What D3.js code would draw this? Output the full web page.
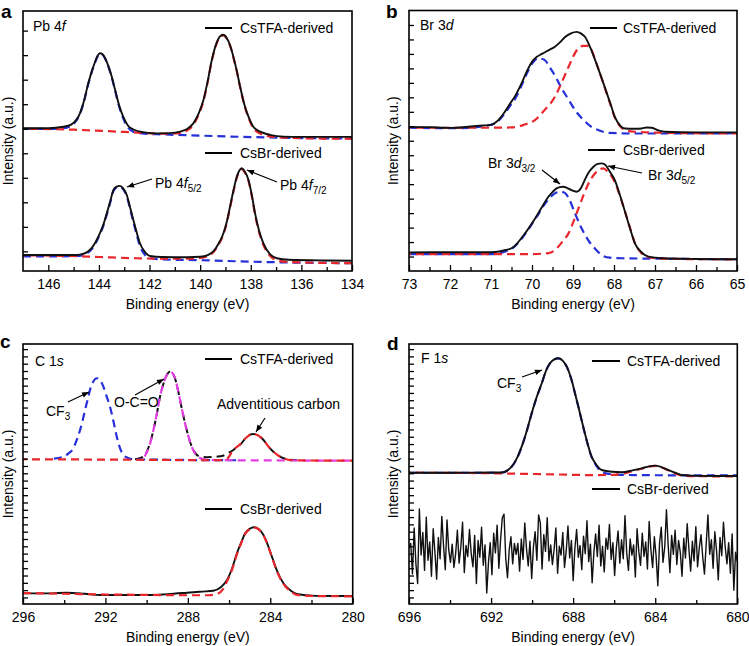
<!DOCTYPE html>
<html><head><meta charset="utf-8">
<script src="https://cdn.jsdelivr.net/npm/d3@7"></script>
<style>body{margin:0;background:#fff}svg text{font-family:"Liberation Sans",Arial,sans-serif;fill:#000}</style>
</head><body><svg id="chart" width="749" height="646"></svg>
<script>
// ---------------- DATA ----------------
// Panel a: Pb 4f  [binding energy (eV), intensity (a.u.)]
const aTFA = [[147,5.02],[146,5.02],[145.4,5.08],[145.1,5.17],[144.9,5.35],[144.75,5.63],[144.6,6.1],[144.42,6.85],[144.28,7.35],[144.15,7.73],[144.05,7.98],[143.96,8.08],[143.85,8.03],[143.69,7.73],[143.5,7.15],[143.36,6.58],[143.2,5.95],[143.04,5.49],[142.85,5.12],[142.64,4.97],[142.2,4.85],[141.72,4.81],[141.2,4.82],[140.79,4.88],[140.5,5.0],[140.27,5.22],[140.05,5.65],[139.87,6.17],[139.7,6.95],[139.54,7.8],[139.35,8.5],[139.2,8.78],[139.08,8.83],[138.95,8.7],[138.8,8.35],[138.69,7.94],[138.55,7.35],[138.42,6.71],[138.25,5.98],[138.09,5.49],[137.9,5.08],[137.63,4.88],[137.2,4.74],[136.71,4.68],[136,4.67],[135,4.67],[134,4.67]];
const aTFAfit52 = [[147,5.0],[146,4.99],[145.4,5.02],[145.1,5.12],[144.9,5.32],[144.75,5.6],[144.6,6.08],[144.42,6.83],[144.28,7.33],[144.15,7.71],[144.05,7.96],[143.96,8.06],[143.85,8.01],[143.69,7.71],[143.5,7.12],[143.36,6.55],[143.2,5.9],[143.04,5.42],[142.85,5.05],[142.64,4.88],[142.2,4.8],[141.5,4.77],[140,4.72],[138,4.66],[136,4.62],[134,4.6]];
const aTFAfit72 = [[147,5.0],[145,4.96],[143,4.87],[141.5,4.8],[140.79,4.82],[140.5,4.94],[140.27,5.16],[140.05,5.6],[139.87,6.13],[139.7,6.92],[139.54,7.77],[139.35,8.47],[139.2,8.76],[139.08,8.81],[138.95,8.68],[138.8,8.33],[138.69,7.92],[138.55,7.33],[138.42,6.69],[138.25,5.95],[138.09,5.45],[137.9,5.02],[137.63,4.8],[137.2,4.68],[136.5,4.63],[135,4.6],[134,4.6]];
const aBr = [[147,-0.15],[146,-0.15],[145,-0.15],[144.75,-0.13],[144.5,-0.05],[144.29,0.13],[144.12,0.4],[143.96,0.74],[143.82,1.1],[143.69,1.55],[143.55,2.05],[143.43,2.5],[143.3,2.64],[143.17,2.67],[143.05,2.58],[142.9,2.3],[142.77,1.8],[142.64,1.28],[142.5,0.75],[142.38,0.33],[142.2,0.0],[141.98,-0.19],[141.5,-0.23],[140.5,-0.24],[140,-0.22],[139.7,-0.15],[139.48,0.0],[139.28,0.3],[139.08,0.74],[138.95,1.2],[138.82,1.82],[138.68,2.5],[138.55,3.05],[138.45,3.3],[138.36,3.39],[138.25,3.28],[138.09,2.91],[137.96,2.3],[137.83,1.55],[137.66,0.8],[137.5,0.33],[137.25,-0.1],[136.97,-0.28],[136.5,-0.34],[135,-0.37],[134,-0.38]];
const aBrFit52 = [[147,-0.2],[145.5,-0.2],[144.75,-0.18],[144.5,-0.1],[144.29,0.08],[144.12,0.35],[143.96,0.7],[143.82,1.06],[143.69,1.5],[143.55,2.0],[143.43,2.45],[143.3,2.6],[143.17,2.63],[143.05,2.54],[142.9,2.25],[142.77,1.74],[142.64,1.2],[142.5,0.65],[142.38,0.22],[142.2,-0.12],[141.98,-0.28],[141.5,-0.33],[140,-0.36],[138,-0.42],[136,-0.46],[134,-0.48]];
const aBrFit72 = [[147,-0.16],[145.5,-0.18],[144,-0.23],[142.5,-0.28],[141.5,-0.3],[140.5,-0.3],[140,-0.27],[139.7,-0.19],[139.48,-0.04],[139.28,0.26],[139.08,0.7],[138.95,1.16],[138.82,1.78],[138.68,2.46],[138.55,3.01],[138.45,3.26],[138.36,3.35],[138.25,3.24],[138.09,2.87],[137.96,2.26],[137.83,1.5],[137.66,0.74],[137.5,0.26],[137.25,-0.17],[136.97,-0.36],[136.5,-0.43],[135,-0.47],[134,-0.48]];
const aXMajor = [146,144,142,140,138,136,134];
const aXMinor = [145,143,141,139,137,135];
const aYTicks = [0,1,2,3,4,5,6,7,8,9];

// Panel b: Br 3d
const bTFA = [[73,8.96],[72.5,8.94],[72,8.89],[71.5,8.98],[71.2,9.05],[71.0,9.1],[70.85,9.35],[70.7,9.85],[70.55,10.5],[70.41,11.1],[70.25,12.0],[70.1,12.95],[70.0,13.45],[69.88,13.8],[69.76,14.0],[69.6,14.25],[69.44,14.5],[69.3,14.85],[69.2,15.15],[69.05,15.42],[68.91,15.52],[68.8,15.4],[68.7,15.15],[68.58,14.45],[68.46,13.57],[68.33,12.55],[68.2,11.5],[68.08,10.5],[67.98,9.65],[67.85,9.05],[67.73,8.85],[67.5,8.83],[67.32,8.85],[67.2,8.92],[67.08,8.9],[66.9,8.7],[66.76,8.62],[66,8.58],[65,8.58]];
const bTFAfit32 = [[73,8.9],[72,8.87],[71.5,8.9],[71.2,9.0],[71.0,9.1],[70.85,9.3],[70.7,9.75],[70.55,10.35],[70.41,10.9],[70.25,11.85],[70.1,12.8],[69.98,13.4],[69.85,13.69],[69.7,13.6],[69.55,13.0],[69.42,12.4],[69.3,11.73],[69.12,10.9],[68.95,10.12],[68.75,9.45],[68.55,8.96],[68.35,8.7],[68.15,8.55],[67.5,8.5],[66,8.5],[65,8.52]];
const bTFAfit52 = [[73,8.9],[71,8.9],[70.5,8.92],[70.2,9.1],[69.93,9.43],[69.7,10.1],[69.44,11.04],[69.28,12.0],[69.11,13.1],[68.98,13.9],[68.87,14.4],[68.75,14.55],[68.63,14.56],[68.55,14.3],[68.46,13.6],[68.33,12.55],[68.2,11.45],[68.08,10.45],[67.98,9.6],[67.85,9.0],[67.73,8.75],[67.5,8.62],[67.2,8.58],[66,8.52],[65,8.5]];
const bBr = [[73,0.29],[72,0.3],[71,0.3],[70.8,0.35],[70.65,0.45],[70.5,0.57],[70.35,0.95],[70.17,1.6],[70.0,2.3],[69.85,2.98],[69.72,3.6],[69.6,4.13],[69.5,4.45],[69.4,4.71],[69.32,4.8],[69.24,4.82],[69.15,4.75],[69.05,4.6],[68.91,4.48],[68.8,4.75],[68.72,5.25],[68.63,5.75],[68.5,6.2],[68.4,6.4],[68.3,6.44],[68.2,6.3],[68.1,5.85],[67.98,5.28],[67.85,4.2],[67.72,2.98],[67.6,1.85],[67.49,0.91],[67.35,0.35],[67.16,-0.01],[66.8,-0.12],[66,-0.17],[65,-0.19]];
const bBrFit32 = [[73,0.17],[71,0.17],[70.8,0.22],[70.65,0.35],[70.5,0.52],[70.35,0.9],[70.17,1.55],[70.0,2.25],[69.85,2.9],[69.72,3.5],[69.6,3.95],[69.45,4.35],[69.3,4.48],[69.2,4.4],[69.1,4.0],[68.95,2.98],[68.8,2.0],[68.63,1.14],[68.45,0.5],[68.3,0.1],[68.1,-0.08],[67.8,-0.12],[66,-0.17],[65,-0.19]];
const bBrFit52 = [[73,0.17],[70,0.17],[69.6,0.24],[69.44,0.45],[69.28,0.95],[69.11,1.6],[68.95,2.7],[68.79,3.9],[68.63,5.0],[68.46,5.75],[68.35,6.02],[68.26,6.09],[68.15,5.85],[68.05,5.5],[67.98,5.14],[67.85,4.15],[67.72,3.0],[67.6,1.9],[67.49,0.93],[67.35,0.3],[67.16,-0.05],[66.8,-0.15],[66,-0.18],[65,-0.2]];
const bXMajor = [73,72,71,70,69,68,67,66,65];
const bXMinor = [72.5,71.5,70.5,69.5,68.5,67.5,66.5,65.5];
const bYTicks = d3.range(0,17);

// Panel c: C 1s
const cTFA = [[290.9,18.95],[290.65,18.92],[290.3,19.1],[290.08,19.51],[289.85,21.0],[289.67,22.93],[289.5,25.2],[289.35,27.5],[289.18,29.3],[289.02,30.47],[288.86,30.92],[288.72,30.6],[288.6,29.78],[288.45,28.0],[288.28,25.67],[288.08,23.2],[287.87,21.11],[287.67,19.9],[287.47,19.35],[287.1,19.2],[286.6,19.27],[286.3,19.4],[286.1,19.7],[285.79,20.19],[285.6,20.65],[285.4,21.1],[285.2,21.8],[285.0,22.25],[284.82,22.38],[284.6,22.2],[284.33,21.56],[284.1,20.7],[283.85,19.96],[283.6,19.4],[283.36,19.05],[283,18.85],[282.7,18.78]];
const cTFAfitCF3 = [[294.5,19.0],[294.04,19.27],[293.8,19.7],[293.56,20.42],[293.4,21.5],[293.23,22.93],[293.1,24.3],[292.99,25.67],[292.87,27.0],[292.75,28.41],[292.6,29.5],[292.42,30.01],[292.25,29.7],[292.1,28.86],[291.95,27.6],[291.78,26.12],[291.6,24.0],[291.45,22.01],[291.3,20.5],[291.13,19.51],[290.9,19.1],[290.65,18.92],[289,18.85],[287,18.8],[285.5,18.78]];
const cTFAfitOCO = [[290.1,19.3],[289.85,20.9],[289.67,22.93],[289.5,25.2],[289.35,27.5],[289.18,29.3],[289.02,30.47],[288.86,30.92],[288.72,30.6],[288.6,29.78],[288.45,28.0],[288.28,25.67],[288.08,23.2],[287.87,21.11],[287.67,19.8],[287.47,19.2],[287.2,18.9],[286.5,18.8],[284,18.76],[282,18.74],[280,18.73]];
const cTFAfitAdv = [[296,18.92],[294,18.9],[292,18.87],[290,18.84],[288,18.8],[287,18.78],[286.5,18.8],[286.1,19.0],[285.79,20.19],[285.6,20.65],[285.4,21.1],[285.2,21.8],[285.0,22.25],[284.82,22.38],[284.6,22.2],[284.33,21.56],[284.1,20.7],[283.85,19.96],[283.6,19.4],[283.36,19.05],[283,18.8],[282,18.75],[280,18.73]];
const cBr = [[296,0.56],[295,0.55],[293.9,0.64],[293,0.5],[292.26,0.33],[291,0.33],[289.83,0.33],[289,0.45],[288.05,0.64],[287.3,0.8],[286.76,0.92],[286.4,1.4],[286.1,2.38],[285.85,4.0],[285.62,6.04],[285.4,7.6],[285.22,8.78],[285.0,9.4],[284.78,9.6],[284.55,9.35],[284.33,8.55],[284.12,7.2],[283.92,5.58],[283.65,3.5],[283.36,1.93],[283.0,0.9],[282.71,0.47],[282,0.25],[281,0.2],[280,0.19]];
const cBrFit = [[296,0.6],[294,0.5],[292,0.4],[290,0.35],[288,0.3],[287,0.3],[286.6,0.45],[286.3,1.1],[286.1,2.2],[285.85,3.85],[285.62,5.9],[285.4,7.5],[285.22,8.7],[285.0,9.35],[284.78,9.55],[284.55,9.3],[284.33,8.5],[284.12,7.15],[283.92,5.5],[283.65,3.4],[283.36,1.85],[283.0,0.8],[282.71,0.35],[282,0.2],[280,0.15]];
const cXMajor = [296,292,288,284,280];
const cXMinor = [294,290,286,282];
const cYTicks = d3.range(0,35);

// Panel d: F 1s
const dTFA = [[696,17.08],[694,17.08],[692,17.1],[691.48,17.1],[691.2,17.4],[691.0,17.9],[690.75,19.0],[690.51,20.64],[690.25,22.9],[690.02,25.22],[689.78,27.4],[689.53,29.33],[689.3,31.2],[689.13,32.07],[688.92,32.6],[688.72,32.75],[688.5,32.4],[688.31,31.6],[688.1,30.0],[687.91,27.96],[687.7,25.6],[687.51,23.38],[687.3,21.1],[687.1,19.27],[686.85,18.1],[686.61,17.45],[686.1,17.2],[685.63,17.14],[685.1,17.4],[684.66,17.68],[684.3,17.95],[684.01,18.04],[683.7,17.85],[683.36,17.45],[683.0,17.05],[682.71,16.77],[682,16.65],[681,16.63],[680,16.63]];
const dTFAfitCF3 = [[696,17.05],[692,17.05],[691.48,17.08],[691.2,17.38],[691.0,17.88],[690.75,18.98],[690.51,20.6],[690.25,22.87],[690.02,25.2],[689.78,27.38],[689.53,29.3],[689.3,31.18],[689.13,32.05],[688.92,32.58],[688.72,32.73],[688.5,32.38],[688.31,31.58],[688.1,29.97],[687.91,27.93],[687.7,25.57],[687.51,23.35],[687.3,21.05],[687.1,19.2],[686.85,17.95],[686.61,17.2],[686.1,16.85],[685,16.75],[683,16.72],[680,16.7]];
const dTFAfit684 = [[696,17.08],[692,17.0],[689,16.85],[687,16.75],[686,16.78],[685.63,16.9],[685.1,17.3],[684.66,17.62],[684.3,17.9],[684.01,18.0],[683.7,17.8],[683.36,17.4],[683.0,16.95],[682.71,16.7],[682,16.6],[680,16.58]];
const dBrStart = 696, dBrEnd = 680;
const dBrValues = [
6.8,7.4,3.2,9.5,4.6,1.9,12.1,5.8,8.9,3.7,11.0,5.1,7.6,2.9,9.4,6.2,2.5,8.2,5.3,11.1,
7.0,3.8,10.6,6.5,4.8,7.3,4.1,6.0,9.2,4.7,6.9,10.3,3.4,7.1,5.6,9.3,6.0,4.2,8.5,1.9,
7.8,5.5,9.6,4.4,7.2,0.6,4.8,7.5,3.1,8.8,6.1,9.9,4.0,7.9,10.9,11.4,5.3,2.7,6.5,8.3,
4.6,7.4,5.9,7.4,3.6,8.0,5.2,10.2,6.7,4.3,7.7,2.6,6.9,9.0,5.1,11.3,10.2,3.9,8.6,6.3,
10.9,5.0,7.2,4.5,6.6,9.5,3.3,7.0,5.8,8.9,4.1,6.4,9.8,5.4,7.8,2.3,6.7,9.3,5.5,7.1,
3.8,8.4,6.0,10.5,4.9,7.3,2.0,6.2,8.7,5.6,9.9,4.3,7.0,3.5,8.1,6.6,10.0,5.2,7.5,3.0,
6.8,9.1,4.7,7.9,5.3,11.2,6.1,3.7,8.0,5.8,7.2,2.8,9.4,6.3,4.4,8.8,5.6,7.6,3.9,10.4,
6.5,4.1,8.3,5.7,1.6,7.4,9.6,4.8,6.9,12.0,7.1,3.4,8.5,5.9,9.2,4.5,7.8,6.2,2.9,8.1,
5.4,10.1,6.6,3.6,7.7,5.0,9.7,4.2,6.8,8.6,5.5,3.2,7.3,11.3,5.9,7.9,4.0,9.0,6.4,2.4,
8.2,5.7,10.3,6.9,4.6,7.5,3.3,8.7,1.0,6.2,4.9];
const dXMajor = [696,692,688,684,680];
const dXMinor = [694,690,686,682];
const dYTicks = d3.range(0,35);

const BLUE = "#2530d8", RED = "#e8262b", MAGENTA = "#e23ce2", BLACK = "#111";

// ---------------- DRAW ----------------
const svg = d3.select("#chart");
const defs = svg.append("defs");
defs.append("marker").attr("id","arrow").attr("viewBox","0 0 10 10")
  .attr("refX",10).attr("refY",5).attr("markerWidth",8).attr("markerHeight",7)
  .attr("markerUnits","userSpaceOnUse").attr("orient","auto")
  .append("path").attr("d","M0,1 L10,5 L0,9 Z").attr("fill","#000");

function panel(p){
  const {l,r,t,b} = p.box;
  const x = d3.scaleLinear().domain(p.xDomain).range([l,r]);
  const y = d3.scaleLinear().domain(p.yDomain).range([b,t]);
  const g = svg.append("g");
  const cid = "clip-"+p.id;
  defs.append("clipPath").attr("id",cid).append("rect")
    .attr("x",l).attr("y",t).attr("width",r-l).attr("height",b-t);
  const plot = g.append("g").attr("clip-path","url(#"+cid+")");
  p.series.forEach(s=>{
    const line = d3.line().x(d=>x(d[0])).y(d=>y(d[1])).curve(s.curve || d3.curveMonotoneX);
    plot.append("path").datum(s.data).attr("d",line)
      .attr("fill","none").attr("stroke",s.color)
      .attr("stroke-width",s.width||2)
      .attr("stroke-dasharray",s.dash||null)
      .attr("stroke-dashoffset",s.offset||0)
      .attr("stroke-linejoin","round");
  });
  // axes
  const ax = g.append("g").attr("transform",`translate(0,${b})`)
    .call(d3.axisBottom(x).tickValues(p.xMajor).tickSize(-6).tickPadding(8).tickFormat(d3.format("d")));
  ax.selectAll("text").attr("font-size",14).attr("font-family","Liberation Sans, Arial, sans-serif");
  const axm = g.append("g").attr("transform",`translate(0,${b})`)
    .call(d3.axisBottom(x).tickValues(p.xMinor).tickSize(-4).tickFormat(""));
  const ay = g.append("g").attr("transform",`translate(${l},0)`)
    .call(d3.axisLeft(y).tickValues(p.yTicks).tickSize(-5).tickFormat(""));
  [ax,axm,ay].forEach(a=>{a.select(".domain").remove(); a.selectAll("line").attr("stroke","#000").attr("stroke-width",1.3);});
  g.append("rect").attr("x",l).attr("y",t).attr("width",r-l).attr("height",b-t)
    .attr("fill","none").attr("stroke","#000").attr("stroke-width",1.6);
  // labels
  g.append("text").attr("x",(l+r)/2).attr("y",b+38).attr("text-anchor","middle")
    .attr("font-size",14).text("Binding energy (eV)");
  g.append("text").attr("transform",`translate(${p.yLabelX},${(t+b)/2}) rotate(-90)`)
    .attr("text-anchor","middle").attr("font-size",14).text("Intensity (a.u.)");
  g.append("text").attr("x",p.letter[1]).attr("y",p.letter[2]).attr("font-size",19)
    .attr("font-weight","bold").text(p.letter[0]);
  const tt = g.append("text").attr("x",p.title.x).attr("y",p.title.y).attr("font-size",14);
  tt.append("tspan").text(p.title.a);
  tt.append("tspan").attr("font-style","italic").text(p.title.b);
  p.legend.forEach(lg=>{
    g.append("line").attr("x1",lg.x1).attr("x2",lg.x2).attr("y1",lg.y).attr("y2",lg.y)
      .attr("stroke","#000").attr("stroke-width",2);
    g.append("text").attr("x",lg.tx).attr("y",lg.y+5).attr("font-size",14).text(lg.text);
  });
  (p.notes||[]).forEach(n=>{
    const te = g.append("text").attr("x",n.x).attr("y",n.y).attr("font-size",14);
    n.parts.forEach(pt=>{
      const ts = te.append("tspan").text(pt.t);
      if(pt.i) ts.attr("font-style","italic");
      if(pt.sub) ts.attr("font-size",10).attr("dy",4);
    });
    if(n.arrow) g.append("line").attr("x1",n.arrow[0]).attr("y1",n.arrow[1])
      .attr("x2",n.arrow[2]).attr("y2",n.arrow[3]).attr("stroke","#000")
      .attr("stroke-width",1.2).attr("marker-end","url(#arrow)");
  });
}

const DASH = "8,5";
panel({id:"a", box:{l:23,r:352,t:11,b:271}, xDomain:[147,134], yDomain:[-0.8,9.8],
  xMajor:aXMajor, xMinor:aXMinor, yTicks:aYTicks, yLabelX:13,
  letter:["a",1,18], title:{x:33,y:31,a:"Pb 4",b:"f"},
  legend:[{x1:205,x2:232,y:28,tx:240,text:"CsTFA-derived"},{x1:205,x2:232,y:153,tx:240,text:"CsBr-derived"}],
  series:[
    {data:aTFAfit52,color:BLUE,dash:DASH,width:2.2},
    {data:aTFAfit72,color:RED,dash:DASH,width:2.2,offset:6},
    {data:aBrFit52,color:BLUE,dash:DASH,width:2.2},
    {data:aBrFit72,color:RED,dash:DASH,width:2.2,offset:6},
    {data:aTFA,color:BLACK,width:1.9},
    {data:aBr,color:BLACK,width:1.9}],
  notes:[
    {x:155,y:188,parts:[{t:"Pb 4"},{t:"f",i:1},{t:"5/2",sub:1}],arrow:[152,179,127,187]},
    {x:280,y:190,parts:[{t:"Pb 4"},{t:"f",i:1},{t:"7/2",sub:1}],arrow:[277,182,247,170]}]
});
panel({id:"b", box:{l:409,r:737,t:10.5,b:271}, xDomain:[73,65], yDomain:[-1,17],
  xMajor:bXMajor, xMinor:bXMinor, yTicks:bYTicks, yLabelX:398,
  letter:["b",386,18], title:{x:420,y:30,a:"Br 3",b:"d"},
  legend:[{x1:590,x2:617,y:28,tx:623,text:"CsTFA-derived"},{x1:588,x2:615,y:150,tx:623,text:"CsBr-derived"}],
  series:[
    {data:bTFAfit32,color:BLUE,dash:DASH,width:2.2},
    {data:bTFAfit52,color:RED,dash:DASH,width:2.2,offset:6},
    {data:bBrFit32,color:BLUE,dash:DASH,width:2.2},
    {data:bBrFit52,color:RED,dash:DASH,width:2.2,offset:6},
    {data:bTFA,color:BLACK,width:1.9},
    {data:bBr,color:BLACK,width:1.9}],
  notes:[
    {x:488,y:168,parts:[{t:"Br 3"},{t:"d",i:1},{t:"3/2",sub:1}],arrow:[542,170,560,184]},
    {x:648,y:180,parts:[{t:"Br 3"},{t:"d",i:1},{t:"5/2",sub:1}],arrow:[642,173,608,166]}]
});
panel({id:"c", box:{l:23,r:352.7,t:344,b:604}, xDomain:[296,280], yDomain:[-0.9,34.7],
  xMajor:cXMajor, xMinor:cXMinor, yTicks:cYTicks, yLabelX:13,
  letter:["c",0,348], title:{x:35,y:366,a:"C 1",b:"s"},
  legend:[{x1:205,x2:232,y:359,tx:240,text:"CsTFA-derived"},{x1:205,x2:232,y:509,tx:240,text:"CsBr-derived"}],
  series:[
    {data:cTFA,color:BLACK,dash:DASH,width:2,offset:6},
    {data:cTFAfitCF3,color:BLUE,dash:DASH,width:2.2},
    {data:cTFAfitOCO,color:MAGENTA,dash:DASH,width:2.2},
    {data:cTFAfitAdv,color:RED,dash:DASH,width:2.2,offset:4},
    {data:cBr,color:BLACK,width:1.9},
    {data:cBrFit,color:RED,dash:DASH,width:2.2}],
  notes:[
    {x:46,y:416,parts:[{t:"CF"},{t:"3",sub:1}],arrow:[68,402,89,392]},
    {x:114,y:407,parts:[{t:"O-C=O"}],arrow:[135,395,164,379]},
    {x:217,y:409,parts:[{t:"Adventitious carbon"}],arrow:[265,418,256,432]}]
});
// noisy CsBr F1s trace: energies spaced evenly along the measured range
const dBrStep = (dBrStart-dBrEnd)/(dBrValues.length-1);
const dBr = dBrValues.map((v,i)=>[dBrStart - i*dBrStep, v]);
panel({id:"d", box:{l:409,r:737.3,t:344,b:604}, xDomain:[696,680], yDomain:[-0.9,34.7],
  xMajor:dXMajor, xMinor:dXMinor, yTicks:dYTicks, yLabelX:398,
  letter:["d",387,350], title:{x:421,y:363,a:"F 1",b:"s"},
  legend:[{x1:592,x2:620,y:361,tx:627,text:"CsTFA-derived"},{x1:592,x2:620,y:489,tx:627,text:"CsBr-derived"}],
  series:[
    {data:dTFAfitCF3,color:BLUE,dash:DASH,width:2.2},
    {data:dTFAfit684,color:RED,dash:DASH,width:2.2,offset:6},
    {data:dTFA,color:BLACK,width:1.9},
    {data:dBr,color:BLACK,width:1.4,curve:d3.curveLinear}],
  notes:[
    {x:497,y:388,parts:[{t:"CF"},{t:"3",sub:1}],arrow:[522,377,542,370]}]
});
</script></body></html>
